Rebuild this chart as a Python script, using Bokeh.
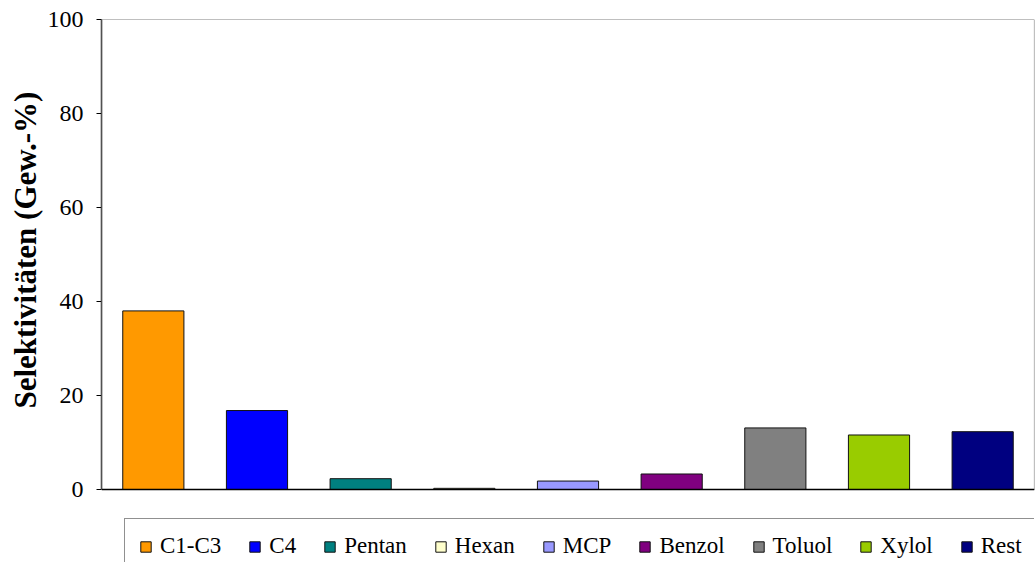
from bokeh.plotting import figure
from bokeh.models import ColumnDataSource, Range1d, FixedTicker, Span, Legend, LegendItem, BoxAnnotation, Title
from bokeh.embed import file_html
from bokeh.resources import INLINE

categories = ["C1-C3", "C4", "Pentan", "Hexan", "MCP", "Benzol", "Toluol", "Xylol", "Rest"]
values = [38.0, 16.8, 2.3, 0.25, 1.8, 3.3, 13.1, 11.6, 12.3]
colors = ["#FF9900", "#0000FF", "#008080", "#FFFFCC", "#9999FF", "#800080", "#808080", "#99CC00", "#000080"]
y_ticks = [0, 20, 40, 60, 80, 100]
Y_MAX = 100
y_label = "Selektivitäten (Gew.-%)"

FONT = "Liberation Serif"

src = ColumnDataSource(dict(cat=categories, val=values, col=colors))

# frame runs to the bottom of the canvas; extra room below 0 holds the legend
p = figure(width=1035, height=562, x_range=categories, y_range=Range1d(-15.53, Y_MAX),
           output_backend="svg", toolbar_location=None)
p.min_border_left = 101
p.min_border_right = 1
p.min_border_top = 19
p.min_border_bottom = 0
p.outline_line_color = None
p.xgrid.grid_line_color = None
p.ygrid.grid_line_color = None
p.x_range.range_padding = 0.0

# plot-area border (top / right) between 0 and 100
p.add_layout(BoxAnnotation(bottom=0, top=Y_MAX, fill_alpha=0, line_color="#808080",
                           line_alpha=1.0, line_width=1.2))

r = p.vbar(x="cat", top="val", width=0.59, source=src, fill_color="col",
           line_color="#111111", line_width=1)

p.xaxis.visible = False
p.add_layout(Span(location=0, dimension="width", line_color="black", line_width=1.5))

ya = p.yaxis[0]
ya.ticker = FixedTicker(ticks=y_ticks)
ya.bounds = (0, Y_MAX)
ya.minor_tick_line_color = None
ya.major_tick_in = 0
ya.major_tick_out = 5
ya.major_tick_line_color = "black"
ya.axis_line_color = "#222222"
ya.axis_line_width = 1.5
ya.major_label_text_font = FONT
ya.major_label_text_font_size = "24px"
ya.major_label_text_color = "black"
ya.major_label_standoff = 13

ytitle = Title(text=y_label, align="left", offset=154, standoff=4,
               text_font=FONT, text_font_size="31px", text_font_style="bold",
               text_color="black")
p.add_layout(ytitle, "left")

items = [LegendItem(label=c, renderers=[r], index=i) for i, c in enumerate(categories)]
leg = Legend(items=items, orientation="horizontal", location=(23, -12))
leg.label_text_font = FONT
leg.label_text_font_size = "23px"
leg.label_text_color = "black"
leg.glyph_width = 13
leg.glyph_height = 13
leg.label_standoff = 8
leg.spacing = 27
leg.padding = 14
leg.margin = 0
leg.border_line_color = "#222222"
leg.border_line_width = 1
leg.background_fill_color = "white"
leg.background_fill_alpha = 1.0
p.add_layout(leg, "center")

open("out.html", "w").write(file_html(p, INLINE))
